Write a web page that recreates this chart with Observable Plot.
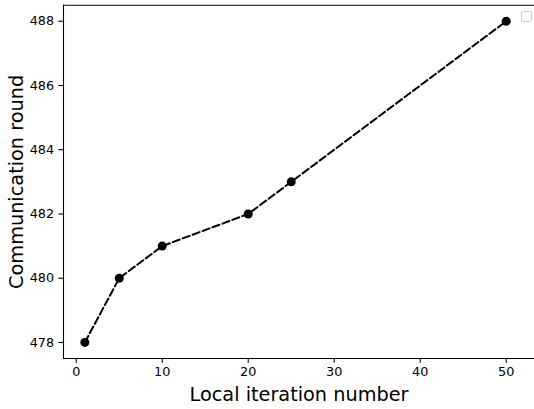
<!DOCTYPE html>
<html>
<head>
<meta charset="utf-8">
<script src="https://cdn.jsdelivr.net/npm/d3@7"></script>
<script src="https://cdn.jsdelivr.net/npm/@observablehq/plot@0.6"></script>
<style>
  html, body { margin: 0; padding: 0; background: #fff; }
  #wrap { position: relative; width: 534px; height: 409px; }
  #legendbox { position: absolute; left: 521px; top: 11px; width: 9px; height: 9px;
    border: 1px solid #d0d0d0; border-radius: 2px; background: #fff; }
  g[aria-label="x-axis tick label"], g[aria-label="y-axis tick label"] { font-size: 12.8px; }
</style>
</head>
<body>
<div id="wrap"><div id="legendbox"></div></div>
<script>
const localIterations = [1, 5, 10, 20, 25, 50];
const communicationRounds = [478, 480, 481, 482, 483, 488];
const xTicks = [0, 10, 20, 30, 40, 50];
const yTicks = [478, 480, 482, 484, 486, 488];
const xLabel = "Local iteration number";
const yLabel = "Communication round";

const data = localIterations.map((x, i) => ({x, y: communicationRounds[i]}));
const xDomain = [-1.48, 53.29];
const yDomain = [477.5, 488.5];
const font = "DejaVu Sans, sans-serif";

const chart = Plot.plot({
  width: 534,
  height: 409,
  marginLeft: 63,
  marginRight: 0,
  marginTop: 4.7,
  marginBottom: 51,
  style: {fontFamily: font, fontSize: "12.8px", color: "#000", background: "#fff"},
  x: {domain: xDomain},
  y: {domain: yDomain},
  marks: [
    Plot.axisX({ticks: xTicks, tickSize: 4.7, tickPadding: 4.2, fontSize: 12.8, fontFamily: font, label: null, stroke: "#000", strokeWidth: 1.07}),
    Plot.axisY({ticks: yTicks, tickSize: 4.7, tickPadding: 4.7, fontSize: 12.8, fontFamily: font, label: null, stroke: "#000", strokeWidth: 1.07}),
    Plot.ruleX([xDomain[0]], {stroke: "#000", strokeWidth: 1.07}),
    Plot.ruleY([yDomain[0], yDomain[1]], {stroke: "#000", strokeWidth: 1.07}),
    Plot.line(data, {x: "x", y: "y", stroke: "#000", strokeWidth: 2, strokeDasharray: "7.4,3.2"}),
    Plot.dot(data, {x: "x", y: "y", r: 4.5, fill: "#000", stroke: "none"}),
    Plot.text([xLabel], {frameAnchor: "bottom", dy: 36, fontSize: 19.3, fontFamily: font, fill: "#000", textAnchor: "middle", lineAnchor: "middle"}),
    Plot.text([yLabel], {frameAnchor: "left", dx: -47, rotate: -90, fontSize: 19.3, fontFamily: font, fill: "#000", textAnchor: "middle", lineAnchor: "middle"})
  ]
});
document.getElementById("wrap").prepend(chart);
</script>
</body>
</html>
